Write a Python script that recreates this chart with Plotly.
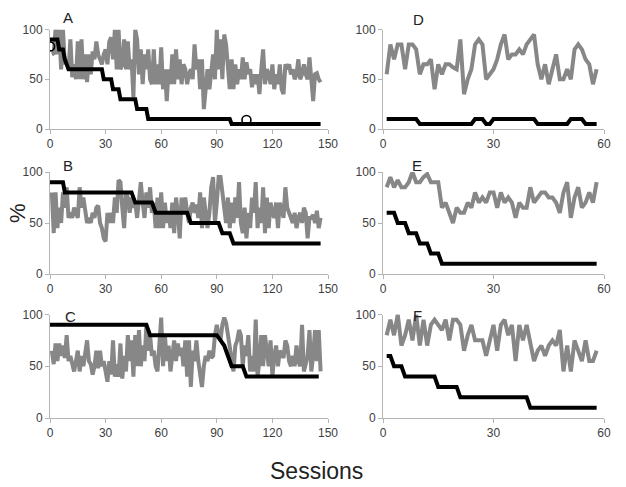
import plotly.graph_objects as go

# ---------------- data ----------------
gray_A = [75, 76, 100, 75, 100, 60, 100, 65, 70, 60,
          90, 52, 65, 50, 88, 50, 90, 50, 75, 47,
          75, 55, 78, 70, 88, 75, 70, 65, 75, 80,
          65, 88, 92, 70, 100, 60, 100, 60, 65, 90,
          60, 88, 60, 70, 32, 100, 90, 55, 80, 45,
          75, 60, 80, 50, 45, 80, 45, 65, 45, 82,
          40, 60, 28, 60, 45, 75, 45, 80, 50, 70,
          45, 65, 60, 45, 55, 60, 50, 85, 60, 70,
          40, 70, 20, 45, 60, 40, 55, 75, 50, 100,
          60, 90, 50, 95, 85, 60, 40, 70, 40, 65,
          45, 60, 50, 72, 50, 67, 55, 60, 42, 55,
          45, 55, 35, 60, 80, 45, 60, 55, 45, 65,
          40, 55, 45, 65, 40, 35, 65, 60, 65, 55,
          60, 50, 55, 70, 50, 55, 65, 55, 50, 72,
          50, 28, 55, 56, 50, 47]
gray_B = [80, 40, 80, 45, 65, 50, 80, 65, 85, 55,
          60, 55, 65, 60, 55, 85, 65, 75, 60, 50,
          55, 50, 60, 55, 65, 67, 50, 45, 35, 32,
          60, 50, 60, 50, 75, 60, 92, 90, 65, 45,
          80, 75, 60, 75, 65, 70, 55, 75, 90, 70,
          55, 80, 65, 85, 60, 70, 45, 75, 45, 80,
          45, 70, 50, 60, 45, 70, 40, 75, 60, 35,
          75, 60, 75, 60, 50, 65, 70, 60, 68, 55,
          80, 45, 75, 60, 45, 60, 85, 95, 50, 70,
          95, 95, 80, 60, 50, 75, 45, 70, 50, 75,
          55, 90, 50, 40, 65, 35, 60, 45, 75, 60,
          90, 45, 65, 50, 85, 40, 75, 45, 70, 60,
          55, 70, 45, 70, 60, 55, 85, 65, 60, 55,
          50, 60, 45, 55, 60, 50, 65, 60, 35, 55,
          55, 58, 50, 62, 45, 55]
gray_C = [65, 52, 72, 55, 72, 60, 70, 58, 80, 55,
          60, 50, 45, 55, 65, 45, 60, 50, 65, 75,
          55, 52, 42, 50, 65, 48, 65, 50, 55, 45,
          35, 55, 42, 75, 40, 52, 40, 72, 38, 60,
          45, 80, 55, 75, 40, 80, 50, 85, 50, 70,
          55, 90, 65, 80, 60, 65, 50, 45, 70, 97,
          50, 80, 55, 70, 45, 65, 75, 55, 72, 60,
          68, 50, 75, 40, 75, 30, 65, 55, 75, 55,
          45, 30, 50, 60, 55, 65, 58, 60, 80, 90,
          80, 75, 90, 97, 92, 80, 70, 60, 45, 70,
          75, 85, 80, 50, 70, 60, 80, 45, 60, 45,
          95, 40, 55, 80, 50, 80, 60, 50, 75, 40,
          60, 70, 50, 65, 62, 58, 75, 70, 55, 50,
          60, 50, 70, 55, 50, 90, 45, 55, 60, 85,
          45, 60, 85, 55, 85, 45]
gray_D = [55, 85, 70, 85, 85, 60, 85, 85, 80, 55,
          65, 65, 70, 40, 65, 55, 65, 65, 62, 60,
          90, 35, 50, 60, 85, 90, 85, 50, 55, 60,
          70, 85, 95, 70, 75, 75, 80, 75, 85, 90,
          95, 65, 50, 65, 45, 60, 75, 50, 50, 60,
          50, 80, 85, 80, 70, 65, 45, 60]
gray_E = [85, 95, 85, 92, 85, 85, 90, 100, 90, 90,
          95, 98, 90, 90, 90, 65, 70, 60, 50, 65,
          60, 60, 70, 65, 80, 70, 75, 70, 80, 80,
          65, 80, 70, 75, 70, 55, 70, 65, 65, 85,
          70, 75, 80, 80, 75, 75, 70, 60, 80, 90,
          55, 75, 85, 65, 70, 80, 70, 90]
gray_F = [80, 95, 80, 100, 70, 80, 95, 75, 100, 70,
          95, 70, 90, 95, 90, 85, 95, 75, 95, 95,
          90, 65, 80, 90, 75, 75, 75, 60, 75, 90,
          65, 90, 95, 80, 90, 55, 90, 75, 90, 70,
          55, 65, 70, 60, 70, 75, 70, 85, 45, 70,
          45, 75, 65, 55, 75, 55, 55, 65]

# criterion (black) lines: vertices (session, value)
crit_A_x = [0, 4, 5, 7, 8, 10, 28, 29, 33, 34, 37, 38, 46, 47, 52, 53, 97, 98, 146]
crit_A_y = [90, 90, 80, 80, 70, 60, 60, 50, 50, 40, 40, 30, 30, 20, 20, 10, 10, 5, 5]
crit_B_x = [0, 7, 8, 44, 46, 55, 57, 74, 76, 91, 93, 97, 99, 146]
crit_B_y = [90, 90, 80, 80, 70, 70, 60, 60, 50, 50, 40, 40, 30, 30]
crit_C_x = [0, 52, 54, 90, 94, 95, 96, 98, 104, 106, 145]
crit_C_y = [90, 90, 80, 80, 70, 65, 60, 50, 50, 40, 40]
crit_D_x = [1, 9, 10, 24, 25, 27, 28, 29, 30, 41, 42, 50, 51, 54, 55, 58]
crit_D_y = [10, 10, 5, 5, 10, 10, 5, 5, 10, 10, 5, 5, 10, 10, 5, 5]
crit_E_x = [1, 3, 4, 6, 7, 9, 10, 12, 13, 15, 16, 58]
crit_E_y = [60, 60, 50, 50, 40, 40, 30, 30, 20, 20, 10, 10]
crit_F_x = [1, 2, 3, 5, 6, 14, 15, 20, 21, 39, 40, 58]
crit_F_y = [60, 60, 50, 50, 40, 40, 30, 30, 20, 20, 10, 10]

# open-circle marks in panel A
marks_A_x = [0, 106]
marks_A_y = [83, 9]

panel_labels = ["A", "B", "C", "D", "E", "F"]
x_ticks_long = [0, 30, 60, 90, 120, 150]
x_ticks_short = [0, 30, 60]
y_ticks = [0, 50, 100]

# ---------------- layout ----------------
W, H = 626, 487
GRAY = "#878787"
AX = "#b4b4b4"
TXT = "#404040"

col_px = [(50, 328), (383, 604)]
row_px = [(29.5, 129), (172, 274), (314.5, 418)]

def xd(a, b):
    return [a / W, b / W]

def yd(t, b):
    return [1 - b / H, 1 - t / H]

fig = go.Figure()

panels = [
    (gray_A, crit_A_x, crit_A_y, 0, 0),
    (gray_B, crit_B_x, crit_B_y, 0, 1),
    (gray_C, crit_C_x, crit_C_y, 0, 2),
    (gray_D, crit_D_x, crit_D_y, 1, 0),
    (gray_E, crit_E_x, crit_E_y, 1, 1),
    (gray_F, crit_F_x, crit_F_y, 1, 2),
]

for i, (g, cx, cy, col, row) in enumerate(panels):
    n = i + 1
    xa = "x" if n == 1 else f"x{n}"
    ya = "y" if n == 1 else f"y{n}"
    sessions = list(range(1, len(g) + 1))
    fig.add_trace(go.Scatter(x=sessions, y=g, mode="lines",
                             line=dict(color=GRAY, width=4),
                             cliponaxis=False, xaxis=xa, yaxis=ya,
                             showlegend=False, hoverinfo="skip"))
    fig.add_trace(go.Scatter(x=cx, y=cy, mode="lines",
                             line=dict(color="#000000", width=4),
                             cliponaxis=False, xaxis=xa, yaxis=ya,
                             showlegend=False, hoverinfo="skip"))
    if n == 1:
        fig.add_trace(go.Scatter(x=marks_A_x, y=marks_A_y, mode="markers",
                                 marker=dict(symbol="circle-open", size=9,
                                             color="#000000",
                                             line=dict(width=1.6, color="#000000")),
                                 cliponaxis=True, xaxis=xa, yaxis=ya,
                                 showlegend=False, hoverinfo="skip"))
    ticks = x_ticks_long if col == 0 else x_ticks_short
    xr = [0, 150] if col == 0 else [0, 60]
    axis_common = dict(showgrid=False, zeroline=False, showline=True,
                       linecolor=AX, linewidth=1, ticks="outside",
                       tickcolor=AX, ticklen=4, tickwidth=1, automargin=False,
                       tickfont=dict(family="Liberation Sans, Arial", size=12, color=TXT))
    fig.layout[("xaxis" if n == 1 else f"xaxis{n}")] = dict(
        domain=xd(*col_px[col]), range=xr, tickvals=ticks,
        anchor=ya, **axis_common)
    fig.layout[("yaxis" if n == 1 else f"yaxis{n}")] = dict(
        domain=yd(*row_px[row]), range=[0, 100], tickvals=y_ticks,
        anchor=xa, **axis_common)

label_pos = [(68, 17), (68, 165), (70, 316), (418, 20), (417, 165), (417, 315)]
for lab, (px, py) in zip(panel_labels, label_pos):
    fig.add_annotation(x=px / W, y=1 - py / H, xref="paper", yref="paper",
                       text=lab, showarrow=False, xanchor="center", yanchor="middle",
                       font=dict(family="Liberation Sans, Arial", size=15, color="#222222"))

fig.add_annotation(x=316 / W, y=1 - 471 / H, xref="paper", yref="paper",
                   text="Sessions", showarrow=False, xanchor="center", yanchor="middle",
                   font=dict(family="Liberation Sans, Arial", size=23, color="#222222"))
fig.add_annotation(x=17 / W, y=1 - 213 / H, xref="paper", yref="paper",
                   text="%", showarrow=False, textangle=-90,
                   xanchor="center", yanchor="middle",
                   font=dict(family="Liberation Sans, Arial", size=22, color="#222222"))

fig.update_layout(width=W, height=H, margin=dict(l=0, r=0, t=0, b=0, autoexpand=False),
                  paper_bgcolor="white", plot_bgcolor="white")

fig.write_html("out.html", config={"displayModeBar": False},
               post_script="document.body.style.margin='0';document.body.style.overflow='hidden';")
